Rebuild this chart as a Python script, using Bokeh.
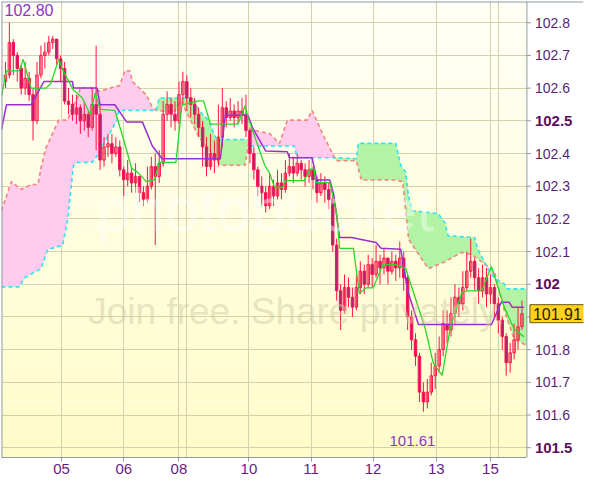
import numpy as np
from bokeh.plotting import figure
from bokeh.models import (Range1d, FixedTicker, BoxAnnotation, Label, Span,
                          ColumnDataSource)
from bokeh.core.properties import value
from bokeh.embed import file_html
from bokeh.resources import INLINE

# ---------------- data (candle index 1..132) ----------------
first_open = 102.62
closes = [102.64, 102.74, 102.70, 102.66, 102.60, 102.63, 102.58, 102.50, 102.64, 102.70,
          102.71, 102.74, 102.75, 102.69, 102.66, 102.56, 102.55, 102.52, 102.54, 102.50,
          102.52, 102.48, 102.55, 102.52, 102.38, 102.42, 102.43, 102.40, 102.42, 102.35,
          102.32, 102.34, 102.31, 102.33, 102.28, 102.26, 102.30, 102.36, 102.33, 102.37,
          102.52, 102.55, 102.52, 102.50, 102.58, 102.62, 102.57, 102.55, 102.52, 102.48,
          102.42, 102.36, 102.40, 102.38, 102.45, 102.54, 102.51, 102.53, 102.51, 102.53,
          102.52, 102.47, 102.40, 102.35, 102.30, 102.28, 102.24, 102.30, 102.27, 102.31,
          102.29, 102.34, 102.36, 102.34, 102.37, 102.35, 102.33, 102.35, 102.32, 102.28,
          102.31, 102.29, 102.26, 102.12, 101.98, 101.92, 101.99, 101.96, 101.93, 101.99,
          102.04, 102.00, 102.06, 102.03, 102.07, 102.05, 102.08, 102.04, 102.07, 102.05,
          102.08, 102.02, 101.90, 101.83, 101.78, 101.67, 101.64, 101.67, 101.72, 101.75,
          101.80, 101.88, 101.86, 101.91, 101.96, 101.94, 101.99, 102.04, 102.07, 102.02,
          101.98, 102.02, 101.97, 101.99, 101.94, 101.89, 101.84, 101.76, 101.79, 101.83,
          101.87, 101.91]
highs = [102.68, 102.80, 102.75, 102.71, 102.67, 102.68, 102.65, 102.60, 102.68, 102.73,
         102.74, 102.76, 102.76, 102.75, 102.70, 102.68, 102.60, 102.58, 102.58, 102.55,
         102.56, 102.53, 102.60, 102.73, 102.55, 102.45, 102.46, 102.46, 102.45, 102.44,
         102.36, 102.38, 102.36, 102.37, 102.33, 102.30, 102.36, 102.39, 102.40, 102.41,
         102.56, 102.59, 102.57, 102.56, 102.62, 102.65, 102.64, 102.60, 102.57, 102.54,
         102.50, 102.45, 102.46, 102.44, 102.55, 102.60, 102.56, 102.57, 102.55, 102.56,
         102.57, 102.58, 102.48, 102.42, 102.36, 102.33, 102.30, 102.34, 102.32, 102.35,
         102.34, 102.38, 102.40, 102.39, 102.40, 102.38, 102.37, 102.38, 102.36, 102.33,
         102.34, 102.33, 102.31, 102.27, 102.14, 102.00, 102.03, 102.02, 101.99, 102.03,
         102.07, 102.06, 102.09, 102.08, 102.12, 102.09, 102.11, 102.08, 102.10, 102.09,
         102.13, 102.10, 102.03, 101.92, 101.85, 101.79, 101.70, 101.71, 101.76, 101.79,
         101.84, 101.92, 101.92, 101.96, 102.00, 101.99, 102.04, 102.10, 102.14, 102.08,
         102.05, 102.06, 102.05, 102.03, 102.00, 101.96, 101.90, 101.85, 101.82, 101.88,
         101.93, 101.95]
lows = [102.60, 102.63, 102.64, 102.62, 102.58, 102.58, 102.56, 102.44, 102.49, 102.63,
        102.66, 102.70, 102.72, 102.67, 102.62, 102.55, 102.52, 102.50, 102.49, 102.46,
        102.47, 102.45, 102.47, 102.41, 102.35, 102.36, 102.39, 102.37, 102.39, 102.33,
        102.27, 102.30, 102.28, 102.28, 102.25, 102.24, 102.25, 102.29, 102.12, 102.31,
        102.36, 102.50, 102.48, 102.47, 102.49, 102.55, 102.53, 102.51, 102.49, 102.45,
        102.36, 102.33, 102.35, 102.34, 102.36, 102.42, 102.48, 102.50, 102.48, 102.49,
        102.49, 102.45, 102.37, 102.32, 102.27, 102.24, 102.22, 102.23, 102.24, 102.26,
        102.26, 102.28, 102.33, 102.31, 102.33, 102.32, 102.30, 102.31, 102.29, 102.25,
        102.27, 102.25, 102.23, 102.10, 101.95, 101.86, 101.91, 101.93, 101.90, 101.92,
        101.97, 101.97, 101.99, 101.99, 102.02, 102.00, 102.03, 102.00, 102.03, 102.01,
        102.02, 101.98, 101.86, 101.80, 101.75, 101.64, 101.61, 101.62, 101.66, 101.68,
        101.73, 101.78, 101.82, 101.84, 101.88, 101.90, 101.92, 101.98, 102.02, 101.98,
        101.94, 101.96, 101.93, 101.94, 101.90, 101.85, 101.80, 101.72, 101.73, 101.77,
        101.80, 101.86]

tenkan_x = [0, 1.25, 4.5, 5.5, 7.5, 11.25, 12.5, 14.5, 15.75, 18.25, 20.5, 22.5, 23.75, 25,
            28.75, 30.75, 33, 34.5, 36.75, 38.75, 40, 44.25, 45.75, 50, 51.25, 53, 60, 61.75,
            62.5, 66.75, 68, 69.25, 71.25, 72, 76.75, 78.25, 79.25, 79.75, 83.25, 85, 85.75,
            89.25, 90.75, 92.5, 94.25, 96.75, 100, 102.5, 107.5, 109.5, 111.75, 113.75,
            116.75, 118.25, 121.75, 124.25, 127.5, 130, 132.5]
tenkan_y = [102.576, 102.653, 102.653, 102.688, 102.600, 102.600, 102.614, 102.688, 102.650,
            102.594, 102.570, 102.520, 102.585, 102.535, 102.532, 102.452, 102.355, 102.343,
            102.314, 102.319, 102.373, 102.373, 102.549, 102.561, 102.561, 102.490, 102.490,
            102.546, 102.511, 102.364, 102.340, 102.296, 102.296, 102.317, 102.317, 102.352,
            102.352, 102.311, 102.311, 102.216, 102.110, 102.110, 101.972, 101.989, 101.989,
            102.060, 102.060, 102.048, 101.863, 101.759, 101.721, 101.863, 101.975, 101.980,
            101.980, 102.054, 101.930, 101.863, 101.839]
kijun_x = [0, 1.25, 7.5, 10.75, 18, 18.25, 24.25, 25, 28.75, 31.75, 35.75, 38.25, 40.75,
           55.5, 56.75, 62.5, 63.75, 67, 72.5, 73, 78.75, 80, 83.25, 84.25, 85.75, 88.75,
           95, 96.25, 101.25, 103, 105.75, 124.25, 126.75, 128.75, 129.5, 132.5]
kijun_y = [102.473, 102.549, 102.549, 102.620, 102.620, 102.600, 102.600, 102.549, 102.549,
           102.496, 102.496, 102.423, 102.384, 102.384, 102.517, 102.517, 102.476, 102.408,
           102.405, 102.387, 102.387, 102.319, 102.319, 102.275, 102.143, 102.143, 102.128,
           102.110, 102.107, 101.980, 101.877, 101.877, 101.945, 101.945, 101.930, 101.930]
senkou_a_x = [0, 4.5, 5.75, 10, 11.75, 15.5, 16.75, 18.25, 19.25, 23, 24.25, 29.25, 29.75,
              39.25, 40, 48.75, 50, 52.5, 54.5, 62.5, 63.25, 74.25, 75, 85, 90, 90.5, 100,
              101.25, 102.5, 103.25, 104.25, 110.75, 112.5, 113.25, 120, 120.75, 122.5,
              123.25, 125, 127.5, 128.25, 133.25]
senkou_a_y = [101.992, 101.992, 102.019, 102.048, 102.107, 102.119, 102.196, 102.364, 102.373,
              102.373, 102.393, 102.502, 102.532, 102.532, 102.570, 102.570, 102.532, 102.502,
              102.443, 102.443, 102.423, 102.423, 102.387, 102.387, 102.384, 102.431, 102.431,
              102.364, 102.343, 102.266, 102.225, 102.216, 102.187, 102.148, 102.143, 102.107,
              102.069, 102.048, 102.019, 102.001, 101.986, 101.986]
senkou_b_x = [0, 2.5, 5, 7.5, 9.25, 10, 11.25, 14.5, 16.75, 18, 19.25, 20, 22.5, 25, 27.5,
              30, 31.25, 32.5, 33.25, 36.75, 38.25, 39.25, 43.75, 45.5, 50, 52.5, 53.75,
              55.5, 61.75, 63.25, 65.5, 68, 70.5, 72.5, 77.5, 78.75, 81.75, 84.25, 85, 90,
              91.25, 100, 101.75, 103.25, 108.25, 112.5, 116.75, 119.25, 121.75, 125, 126.25,
              127.5, 130, 133.25]
senkou_b_y = [102.225, 102.314, 102.290, 102.305, 102.305, 102.355, 102.417, 102.502, 102.502,
              102.541, 102.570, 102.600, 102.600, 102.591, 102.600, 102.608, 102.653, 102.653,
              102.620, 102.579, 102.541, 102.532, 102.526, 102.561, 102.452, 102.414, 102.393,
              102.364, 102.364, 102.473, 102.467, 102.461, 102.431, 102.502, 102.502, 102.532,
              102.452, 102.393, 102.378, 102.378, 102.319, 102.319, 102.314, 102.137, 102.048,
              102.069, 102.098, 102.090, 102.069, 102.039, 101.980, 101.921, 101.833, 101.812]

day_ticks = [15.25, 31, 45, 62.75, 78.5, 94.25, 110.25, 124]
day_labels = ["05", "06", "08", "10", "11", "12", "13", "15"]
week_lines = [47, 126]
y_ticks = [101.5, 101.6, 101.7, 101.8, 101.9, 102.0, 102.1, 102.2, 102.3, 102.4,
           102.5, 102.6, 102.7, 102.8]
bold_ticks = [101.5, 102.0, 102.5]

# ---------------- layout constants ----------------
X_START, X_END, X_FULL = 0, 133.25, 147.6   # X_END..X_FULL is the price-scale strip
Y_START, Y_END = 101.47, 102.865
AXIS_GREY = "#8E9BA3"
LABEL_PURPLE = "#5A1E6E"
FONT = "Liberation Sans"

p = figure(width=584, height=481, x_range=Range1d(X_START, X_FULL),
           y_range=Range1d(Y_START, Y_END), output_backend="svg",
           toolbar_location=None, y_axis_location=None,
           min_border_left=1, min_border_top=1, min_border_right=1,
           min_border_bottom=24, background_fill_color="white",
           border_fill_color="white", outline_line_color=None)

# vertical gradient of the plot background (plot area only)
n_bands = 40
top_rgb = np.array([255, 255, 246])
bot_rgb = np.array([255, 252, 200])
edges = np.linspace(Y_START, Y_END, n_bands + 1)
for i in range(n_bands):
    t = (i + 0.5) / n_bands
    c = bot_rgb + (top_rgb - bot_rgb) * t
    col = "#%02x%02x%02x" % tuple(int(round(v)) for v in c)
    p.add_layout(BoxAnnotation(bottom=edges[i], top=edges[i + 1], right=X_END,
                               fill_color=col, fill_alpha=1.0, line_alpha=0,
                               level="image"))

# grid
p.xgrid.ticker = FixedTicker(ticks=day_ticks + week_lines)
p.ygrid.ticker = FixedTicker(ticks=y_ticks)
for g in (p.xgrid[0], p.ygrid[0]):
    g.grid_line_color = "#D4D2AE"
    g.grid_line_width = 1
# white price-scale strip hides the grid there
p.add_layout(BoxAnnotation(left=X_END, fill_color="white", fill_alpha=1.0,
                           line_alpha=0, level="underlay"))

# ---------------- Ichimoku cloud ----------------
xs = np.linspace(X_START, X_END, 2400)
a_i = np.interp(xs, senkou_a_x, senkou_a_y)
b_i = np.interp(xs, senkou_b_x, senkou_b_y)
top_i = np.maximum(a_i, b_i)
p.varea(x=xs, y1=a_i, y2=top_i, fill_color="#FFCCEE", fill_alpha=1.0)
p.varea(x=xs, y1=b_i, y2=top_i, fill_color="#B2F3A4", fill_alpha=1.0)
p.line(senkou_b_x, senkou_b_y, line_color="#F2857C", line_width=1.6, line_dash="4 3")
p.line(senkou_a_x, senkou_a_y, line_color="#2FE3F2", line_width=1.6, line_dash="4 3")

# ---------------- candles ----------------
idx = np.arange(1, len(closes) + 1)
opens = np.array([first_open] + closes[:-1])
c_arr = np.array(closes)
h_arr = np.array(highs)
l_arr = np.array(lows)
up = c_arr >= opens
RED = "#FF1448"
p.segment(x0=idx, y0=l_arr, x1=idx, y1=h_arr, line_color=RED, line_width=1)
src_up = ColumnDataSource(dict(x=idx[up], top=c_arr[up], bottom=opens[up]))
src_dn = ColumnDataSource(dict(x=idx[~up], top=opens[~up], bottom=c_arr[~up]))
p.vbar(x="x", top="top", bottom="bottom", width=0.62, source=src_up,
       fill_alpha=0, line_color=RED, line_width=1)
p.vbar(x="x", top="top", bottom="bottom", width=0.62, source=src_dn,
       fill_color="#B81E78", line_color=RED, line_width=1)

# ---------------- Tenkan / Kijun ----------------
p.line(kijun_x, kijun_y, line_color="#9B2ECF", line_width=1.5)
p.line(tenkan_x, tenkan_y, line_color="#26D926", line_width=1.3)

# ---------------- x axis ----------------
xa = p.xaxis[0]
xa.bounds = (X_START, X_END)
xa.ticker = FixedTicker(ticks=day_ticks)
xa.major_label_overrides = {float(t): lab for t, lab in zip(day_ticks, day_labels)}
xa.axis_line_color = AXIS_GREY
xa.major_tick_line_color = AXIS_GREY
xa.major_tick_out = 4
xa.major_tick_in = 0
xa.minor_tick_line_color = None
xa.major_label_text_color = "#6A1B8A"
xa.major_label_text_font = FONT
xa.major_label_text_font_size = "15px"
xa.major_label_standoff = 2

# ---------------- price scale (right) ----------------
p.add_layout(Span(location=X_END, dimension="height", line_color=AXIS_GREY, line_width=1))
p.add_layout(Span(location=Y_END, dimension="width", line_color=AXIS_GREY, line_width=2))
p.add_layout(Span(location=X_START, dimension="height", line_color=AXIS_GREY, line_width=2))

p.ray(x=[X_END] * len(y_ticks), y=y_ticks, length=4, length_units="screen", angle=0,
      line_color=AXIS_GREY, line_width=1)
normal = [v for v in y_ticks if v not in bold_ticks and v != 101.9]
p.text(x=[X_END] * len(normal), y=normal, text=[f"{v:g}" for v in normal],
       x_offset=8, text_baseline="middle", text_align="left",
       text_font=value(FONT), text_font_size="14px", text_color=LABEL_PURPLE)
p.text(x=[X_END] * len(bold_ticks), y=bold_ticks, text=[f"{v:g}" for v in bold_ticks],
       x_offset=8, text_baseline="middle", text_align="left",
       text_font=value(FONT), text_font_size="15px", text_font_style="bold",
       text_color="#5A0F5E")

# last price tag
p.add_layout(Label(x=X_END, y=closes[-1], x_offset=3, text=f"{closes[-1]:.2f}",
                   text_baseline="middle", text_align="left", text_font=FONT,
                   text_font_size="16px", text_color="#2A2000",
                   background_fill_color="#FFD21E", border_line_color="#6B5A10",
                   padding=3))

# high / low labels
p.add_layout(Label(x=X_START, y=Y_END, x_offset=3, y_offset=-2, text=f"{max(highs):.2f}",
                   text_baseline="top", text_align="left", text_font=FONT,
                   text_font_size="16px", text_color="#8A38C2"))
low_i = int(np.argmin(l_arr)) + 1
p.add_layout(Label(x=low_i, y=Y_START, x_offset=-11, y_offset=12, text=f"{min(lows):.2f}",
                   text_baseline="bottom", text_align="center", text_font=FONT,
                   text_font_size="15px", text_color="#8A38C2"))

# faint watermark
p.add_layout(Label(x=24, y=102.23, text="photobucket", text_font=FONT,
                   text_font_size="62px", text_color="white", text_alpha=0.42,
                   text_baseline="alphabetic"))
p.add_layout(Label(x=22, y=101.916, text="Join free. Share privately.", text_font=FONT,
                   text_font_size="37px", text_color="#CFCBA6", text_alpha=0.5,
                   text_baseline="alphabetic"))

open("out.html", "w").write(file_html(p, INLINE))
